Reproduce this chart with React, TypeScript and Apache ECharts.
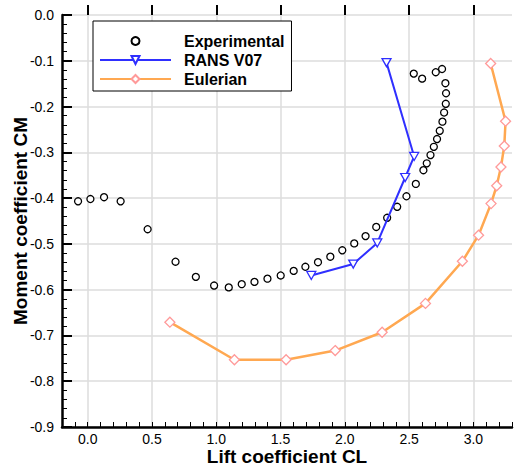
import React, { useEffect, useRef } from "react";
import * as echarts from "echarts";

const experimental: [number, number][] = [
  [-0.075, -0.407], [0.021, -0.402], [0.127, -0.398], [0.256, -0.407],
  [0.466, -0.468], [0.683, -0.539], [0.841, -0.572], [0.983, -0.591],
  [1.097, -0.595], [1.198, -0.588], [1.297, -0.583], [1.398, -0.576],
  [1.501, -0.569], [1.602, -0.559], [1.693, -0.55], [1.791, -0.54],
  [1.887, -0.528], [1.98, -0.514], [2.073, -0.499], [2.161, -0.483],
  [2.244, -0.463], [2.329, -0.443], [2.407, -0.419], [2.479, -0.396],
  [2.552, -0.369], [2.611, -0.339], [2.637, -0.324], [2.666, -0.306],
  [2.692, -0.288], [2.717, -0.271], [2.738, -0.253], [2.759, -0.233],
  [2.772, -0.213], [2.785, -0.194], [2.787, -0.171], [2.782, -0.149],
  [2.756, -0.118], [2.707, -0.125], [2.601, -0.139], [2.536, -0.128],
];

const ransV07: [number, number][] = [
  [1.739, -0.569], [2.065, -0.544], [2.252, -0.498],
  [2.469, -0.355], [2.539, -0.309], [2.324, -0.104],
];

const eulerian: [number, number][] = [
  [0.639, -0.671], [1.141, -0.753], [1.543, -0.753], [1.925, -0.733],
  [2.29, -0.693], [2.627, -0.63], [2.914, -0.538], [3.04, -0.481],
  [3.137, -0.412], [3.181, -0.373], [3.214, -0.332], [3.24, -0.286],
  [3.25, -0.232], [3.134, -0.106],
];

const seriesNames = ["Experimental", "RANS V07", "Eulerian"];
const xMin = -0.2;
const xMax = 3.3;
const xMajorMin = 0;
const xMajorMax = 3.0;
const yMin = -0.9;
const yMax = 0;

const FONT = "'Liberation Sans', Arial, Helvetica, sans-serif";

export default function App() {
  const ref = useRef<HTMLDivElement>(null);
  useEffect(() => {
    if (!ref.current) return;
    const chart = echarts.init(ref.current, undefined, { renderer: "svg" });
    const gLeft = 62;
    const gWidth = 450;
    const gTop = 15;
    const gHeight = 412;
    const pxPerUnit = gWidth / (xMax - xMin);
    const g2Left = gLeft + (xMajorMin - xMin) * pxPerUnit;
    const g2Width = (xMajorMax - xMajorMin) * pxPerUnit;

    chart.setOption({
      animation: false,
      textStyle: { fontFamily: FONT },
      grid: [
        { left: gLeft, width: gWidth, top: gTop, height: gHeight, containLabel: false, outerBoundsMode: "none" },
        { left: g2Left, width: g2Width, top: gTop, height: gHeight, containLabel: false, outerBoundsMode: "none" },
      ],
      legend: {
        orient: "vertical",
        left: 93,
        top: 21,
        backgroundColor: "#fff",
        borderColor: "#000",
        borderWidth: 1,
        borderRadius: 0,
        padding: [12, 7, 4, 6],
        itemWidth: 71,
        itemHeight: 10,
        itemGap: 3,
        data: seriesNames,
        textStyle: {
          fontFamily: FONT,
          fontWeight: "bold",
          fontSize: 16,
          color: "#000",
          padding: [0, 0, 0, 8],
        },
      },
      xAxis: [
        {
          type: "value",
          gridIndex: 0,
          min: xMin,
          max: xMax,
          interval: 0.1,
          name: "Lift coefficient CL",
          nameLocation: "middle",
          nameGap: 20,
          nameMoveOverlap: false,
          nameTextStyle: { fontFamily: FONT, fontWeight: "bold", fontSize: 19, color: "#000" },
          axisLine: { show: true, onZero: false, lineStyle: { color: "#000", width: 2.5 } },
          axisTick: { show: true, inside: true, length: 5, lineStyle: { color: "#000", width: 1 } },
          axisLabel: { show: false },
          splitLine: { show: false },
        },
        {
          type: "value",
          gridIndex: 1,
          min: xMajorMin,
          max: xMajorMax,
          interval: 0.5,
          axisLine: { show: false },
          axisTick: { show: true, inside: true, length: 10, lineStyle: { color: "#000", width: 2 } },
          axisLabel: {
            show: true,
            margin: 5,
            fontFamily: FONT,
            fontSize: 14,
            color: "#000",
            formatter: (v: number) => v.toFixed(1),
          },
          splitLine: { show: true, lineStyle: { color: "#dcdcdc", width: 1.5 } },
        },
      ],
      yAxis: [
        {
          type: "value",
          gridIndex: 0,
          min: yMin,
          max: yMax,
          interval: 0.1,
          name: "Moment coefficient CM",
          nameLocation: "middle",
          nameGap: 32,
          nameMoveOverlap: false,
          nameRotate: 90,
          nameTextStyle: { fontFamily: FONT, fontWeight: "bold", fontSize: 19, color: "#000" },
          axisLine: { show: true, onZero: false, lineStyle: { color: "#000", width: 2.5 } },
          axisTick: { show: true, inside: true, length: 10, lineStyle: { color: "#000", width: 2 } },
          minorTick: { show: true, splitNumber: 5, length: 5, lineStyle: { color: "#000", width: 1 } },
          axisLabel: {
            show: true,
            margin: 8,
            fontFamily: FONT,
            fontSize: 14,
            color: "#000",
            formatter: (v: number) => v.toFixed(1),
          },
          splitLine: { show: true, lineStyle: { color: "#dcdcdc", width: 1.5 } },
        },
        {
          type: "value",
          gridIndex: 1,
          min: yMin,
          max: yMax,
          show: false,
          splitLine: { show: false },
        },
      ],
      series: [
        {
          name: seriesNames[0],
          type: "line",
          xAxisIndex: 0,
          yAxisIndex: 0,
          data: experimental,
          symbol: "circle",
          symbolSize: 7,
          showSymbol: true,
          lineStyle: { opacity: 0, width: 0 },
          itemStyle: { color: "#fff", borderColor: "#000", borderWidth: 1.3 },
          z: 3,
        },
        {
          name: seriesNames[1],
          type: "line",
          xAxisIndex: 0,
          yAxisIndex: 0,
          data: ransV07,
          symbol: "triangle",
          symbolRotate: 180,
          symbolSize: [9, 8],
          showSymbol: true,
          lineStyle: { color: "#2f2fff", width: 2 },
          itemStyle: { color: "#fff", borderColor: "#2f2fff", borderWidth: 1.3 },
          z: 4,
        },
        {
          name: seriesNames[2],
          type: "line",
          xAxisIndex: 0,
          yAxisIndex: 0,
          data: eulerian,
          symbol: "diamond",
          symbolSize: 10,
          showSymbol: true,
          lineStyle: { color: "#ffa851", width: 2.5 },
          itemStyle: { color: "#fff", borderColor: "#ff9a9a", borderWidth: 1.3 },
          z: 4,
        },
      ],
    });
    return () => chart.dispose();
  }, []);
  return <div ref={ref} style={{ width: 525, height: 468, position: "absolute", left: 0, top: 0 }} />;
}
